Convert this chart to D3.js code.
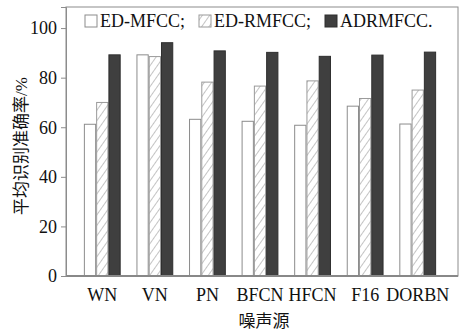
<!DOCTYPE html>
<html lang="zh">
<head>
<meta charset="UTF-8">
<script src="https://d3js.org/d3.v7.min.js"></script>
<style>
  body { margin: 0; background: #fff; }
  svg text { font-family: "Liberation Serif", "DejaVu Serif", serif; fill: #111; }
  svg text.cjk { font-family: "Liberation Serif", "Noto Sans CJK SC", serif; }
</style>
</head>
<body>
<svg width="468" height="333"></svg>
<script>
const categories = ["WN", "VN", "PN", "BFCN", "HFCN", "F16", "DORBN"];
const seriesNames = ["ED-MFCC;", "ED-RMFCC;", "ADRMFCC."];
const edMfcc   = [61.2, 89.2, 63.2, 62.4, 60.8, 68.5, 61.3];
const edRmfcc  = [70.0, 88.5, 78.2, 76.6, 78.7, 71.6, 75.0];
const adrmfcc  = [89.2, 94.1, 90.8, 90.2, 88.6, 89.1, 90.3];
const yTicks   = [0, 20, 40, 60, 80, 100];

const seriesValues = [edMfcc, edRmfcc, adrmfcc];
const svg = d3.select("svg");
const margin = { left: 66, top: 7, right: 10, bottom: 57 };
const W = 468 - margin.left - margin.right;
const H = 333 - margin.top - margin.bottom;

// hatch pattern
const defs = svg.append("defs");
const pat = defs.append("pattern")
  .attr("id", "hatch").attr("patternUnits", "userSpaceOnUse")
  .attr("width", 6).attr("height", 6)
  .attr("patternTransform", "rotate(35)");
pat.append("rect").attr("width", 6).attr("height", 6).attr("fill", "#fff");
pat.append("line").attr("x1", 0).attr("y1", 0).attr("x2", 0).attr("y2", 6)
  .attr("stroke", "#8a8a8a").attr("stroke-width", 1);

const g = svg.append("g").attr("transform", `translate(${margin.left},${margin.top})`);

const x = d3.scaleBand().domain(categories).range([0, W - 4])
  .paddingInner(0.3).paddingOuter(0.34);
const xs = d3.scaleBand().domain(d3.range(3)).range([0, x.bandwidth()]);
const y = d3.scaleLinear().domain([0, 108.5]).range([H, 0]);

const fills = ["#fff", "url(#hatch)", "#3f3f3f"];
const strokes = ["#8c8c8c", "#9a9a9a", "#2e2e2e"];

seriesValues.forEach((vals, s) => {
  g.selectAll(".bar" + s).data(vals).enter().append("rect")
    .attr("x", (d, i) => x(categories[i]) + xs(s) + 0.5)
    .attr("y", d => y(d))
    .attr("width", xs.bandwidth() - 1)
    .attr("height", d => y(0) - y(d))
    .attr("fill", fills[s])
    .attr("stroke", strokes[s])
    .attr("stroke-width", 1);
});

// frame
g.append("rect").attr("x", 0).attr("y", 0).attr("width", W).attr("height", H)
  .attr("fill", "none").attr("stroke", "#8c8c8c").attr("stroke-width", 1);
g.append("line").attr("x1", 0).attr("x2", W).attr("y1", H).attr("y2", H)
  .attr("stroke", "#888").attr("stroke-width", 2);

// y axis
const yAxis = g.append("g").call(d3.axisLeft(y).tickValues(yTicks).tickSize(5).tickPadding(4));
yAxis.attr("font-family", null).attr("font-size", null);
yAxis.select(".domain").attr("stroke", "#8c8c8c");
yAxis.selectAll("line").attr("stroke", "#8c8c8c");
yAxis.selectAll("text").style("font-size", "18px").attr("fill", "#111");

// x labels
const xAxis = g.append("g").attr("transform", `translate(0,${H})`)
  .call(d3.axisBottom(x).tickSize(0).tickPadding(12));
xAxis.attr("font-family", null).attr("font-size", null);
xAxis.select(".domain").remove();
xAxis.selectAll("text").style("font-size", "18px").attr("fill", "#111");

// axis titles
svg.append("text").attr("class", "cjk")
  .attr("transform", `translate(27,146) rotate(-90)`)
  .attr("text-anchor", "middle").style("font-size", "17px")
  .text("平均识别准确率/%");
svg.append("text").attr("class", "cjk")
  .attr("x", 264).attr("y", 327).attr("text-anchor", "middle")
  .style("font-size", "17px").text("噪声源");

// legend
const legendX = [85, 199, 325];
const lg = svg.append("g");
seriesNames.forEach((name, s) => {
  lg.append("rect").attr("x", legendX[s]).attr("y", 15).attr("width", 12).attr("height", 12)
    .attr("fill", fills[s]).attr("stroke", strokes[s]);
  lg.append("text").attr("x", legendX[s] + 15).attr("y", 27)
    .style("font-size", "18px").text(name);
});
</script>
</body>
</html>
